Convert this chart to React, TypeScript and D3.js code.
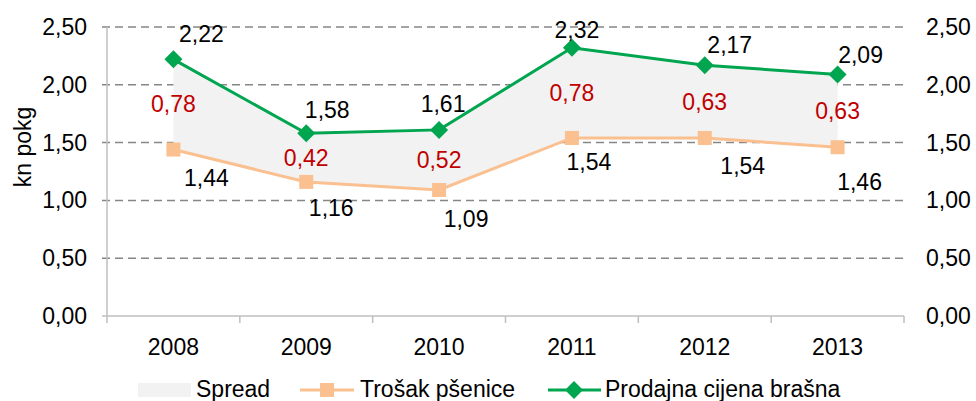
import React, { useRef, useEffect } from "react";
import * as d3 from "d3";

// chart data
const years = ["2008", "2009", "2010", "2011", "2012", "2013"];
const trosakPsenice = [1.44, 1.16, 1.09, 1.54, 1.54, 1.46];
const prodajnaCijena = [2.22, 1.58, 1.61, 2.32, 2.17, 2.09];
const spread = [0.78, 0.42, 0.52, 0.78, 0.63, 0.63];
const yTicks = [0, 0.5, 1, 1.5, 2, 2.5];

// hand-placed label offsets (dx, dy from the marker), as in the original
const prodajnaLabelOffsets = [[28, -17], [21, -15], [4, -18], [5, -10], [25, -12], [23, -11]];
const trosakLabelOffsets = [[33, 36], [25, 34], [27, 37], [17, 32], [38, 36], [22, 43]];

const fmt = (v: number) => v.toFixed(2).replace(".", ",");

const GREEN = "#00a54f";
const ORANGE = "#fac090";
const FONT = "'Liberation Sans', Arial, sans-serif";

const App = () => {
  const container = useRef<SVGSVGElement>(null);

  const width = 976;
  const height = 401;
  const left = 107;
  const right = 904;
  const top = 27;
  const bottom = 316;

  useEffect(() => {
    const svg = d3.select(container.current);
    svg.selectAll("*").remove();

    const xScale = d3.scaleBand().domain(years).range([left, right]);
    const cx = (d: string) => (xScale(d) as number) + xScale.bandwidth() / 2;
    const yScale = d3.scaleLinear().domain([0, 2.5]).range([bottom, top]);

    // gridlines
    svg
      .append("g")
      .selectAll("line")
      .data(yTicks.filter((t) => t > 0))
      .enter()
      .append("line")
      .attr("x1", left - 5)
      .attr("x2", right)
      .attr("y1", (d) => yScale(d))
      .attr("y2", (d) => yScale(d))
      .attr("stroke", "#868686")
      .attr("stroke-width", 1.5)
      .attr("stroke-dasharray", "8,5");

    // axes lines
    svg
      .append("line")
      .attr("x1", left)
      .attr("x2", left)
      .attr("y1", top)
      .attr("y2", bottom)
      .attr("stroke", "#bfbfbf")
      .attr("stroke-width", 1.5);
    svg
      .append("line")
      .attr("x1", left - 5)
      .attr("x2", right)
      .attr("y1", bottom)
      .attr("y2", bottom)
      .attr("stroke", "#bfbfbf")
      .attr("stroke-width", 1.5);

    // x ticks at band boundaries
    svg
      .append("g")
      .selectAll("line")
      .data(years.map((d) => xScale(d) as number).concat([right]))
      .enter()
      .append("line")
      .attr("x1", (d) => d)
      .attr("x2", (d) => d)
      .attr("y1", bottom)
      .attr("y2", bottom + 7)
      .attr("stroke", "#bfbfbf")
      .attr("stroke-width", 1.5);

    const text = (g: any) =>
      g.style("font-family", FONT).style("font-size", "23px").attr("fill", "#000");

    // y labels, left and right
    svg
      .append("g")
      .selectAll("text")
      .data(yTicks)
      .enter()
      .append("text")
      .call(text)
      .attr("x", 87)
      .attr("y", (d) => yScale(d) + 8)
      .attr("text-anchor", "end")
      .text((d) => fmt(d));
    svg
      .append("g")
      .selectAll("text")
      .data(yTicks)
      .enter()
      .append("text")
      .call(text)
      .attr("x", 926)
      .attr("y", (d) => yScale(d) + 8)
      .text((d) => fmt(d));

    // x labels
    svg
      .append("g")
      .selectAll("text")
      .data(years)
      .enter()
      .append("text")
      .call(text)
      .attr("x", (d) => cx(d))
      .attr("y", 355)
      .attr("text-anchor", "middle")
      .text((d) => d);

    // y title
    svg
      .append("text")
      .call(text)
      .attr("transform", "translate(31,147) rotate(-90)")
      .attr("text-anchor", "middle")
      .text("kn pokg");

    // spread area
    const area = d3
      .area<number>()
      .x((d, i) => cx(years[i]))
      .y0((d, i) => yScale(trosakPsenice[i]))
      .y1((d, i) => yScale(prodajnaCijena[i]));
    svg.append("path").datum(spread).attr("d", area).attr("fill", "#f2f2f2");

    const line = d3
      .line<number>()
      .x((d, i) => cx(years[i]))
      .y((d) => yScale(d));

    // trosak line + squares
    svg
      .append("path")
      .datum(trosakPsenice)
      .attr("d", line)
      .attr("fill", "none")
      .attr("stroke", ORANGE)
      .attr("stroke-width", 3);
    svg
      .append("g")
      .selectAll("rect")
      .data(trosakPsenice)
      .enter()
      .append("rect")
      .attr("x", (d, i) => cx(years[i]) - 7)
      .attr("y", (d) => yScale(d) - 7)
      .attr("width", 14)
      .attr("height", 14)
      .attr("fill", ORANGE);

    // prodajna line + diamonds
    svg
      .append("path")
      .datum(prodajnaCijena)
      .attr("d", line)
      .attr("fill", "none")
      .attr("stroke", GREEN)
      .attr("stroke-width", 3);
    const diamond = "M0,-9L9,0L0,9L-9,0Z";
    svg
      .append("g")
      .selectAll("path")
      .data(prodajnaCijena)
      .enter()
      .append("path")
      .attr("d", diamond)
      .attr("transform", (d, i) => `translate(${cx(years[i])},${yScale(d)})`)
      .attr("fill", GREEN);

    // data labels
    svg
      .append("g")
      .selectAll("text")
      .data(prodajnaCijena)
      .enter()
      .append("text")
      .call(text)
      .attr("x", (d, i) => cx(years[i]) + prodajnaLabelOffsets[i][0])
      .attr("y", (d, i) => yScale(d) + prodajnaLabelOffsets[i][1])
      .attr("text-anchor", "middle")
      .text((d) => fmt(d));
    svg
      .append("g")
      .selectAll("text")
      .data(trosakPsenice)
      .enter()
      .append("text")
      .call(text)
      .attr("x", (d, i) => cx(years[i]) + trosakLabelOffsets[i][0])
      .attr("y", (d, i) => yScale(d) + trosakLabelOffsets[i][1])
      .attr("text-anchor", "middle")
      .text((d) => fmt(d));
    svg
      .append("g")
      .selectAll("text")
      .data(spread)
      .enter()
      .append("text")
      .call(text)
      .attr("fill", "#c00000")
      .attr("x", (d, i) => cx(years[i]))
      .attr("y", (d, i) => yScale((trosakPsenice[i] + prodajnaCijena[i]) / 2) + 8)
      .attr("text-anchor", "middle")
      .text((d) => fmt(d));

    // legend
    const legend = svg.append("g");
    legend
      .append("rect")
      .attr("x", 138)
      .attr("y", 383)
      .attr("width", 53)
      .attr("height", 14)
      .attr("fill", "#f2f2f2");
    legend.append("text").call(text).attr("x", 196).attr("y", 397).text("Spread");
    legend
      .append("line")
      .attr("x1", 300)
      .attr("x2", 354)
      .attr("y1", 390)
      .attr("y2", 390)
      .attr("stroke", ORANGE)
      .attr("stroke-width", 3);
    legend
      .append("rect")
      .attr("x", 320)
      .attr("y", 383)
      .attr("width", 14)
      .attr("height", 14)
      .attr("fill", ORANGE);
    legend.append("text").call(text).attr("x", 360).attr("y", 397).text("Trošak pšenice");
    legend
      .append("line")
      .attr("x1", 548)
      .attr("x2", 601)
      .attr("y1", 390)
      .attr("y2", 390)
      .attr("stroke", GREEN)
      .attr("stroke-width", 3);
    legend
      .append("path")
      .attr("d", diamond)
      .attr("transform", "translate(574,390)")
      .attr("fill", GREEN);
    legend
      .append("text")
      .call(text)
      .attr("x", 605)
      .attr("y", 397)
      .text("Prodajna cijena brašna");
  }, []);

  return (
    <svg
      ref={container}
      width={width}
      height={height}
      style={{ position: "absolute", left: 0, top: 0, background: "#fff" }}
    />
  );
};

export default App;
